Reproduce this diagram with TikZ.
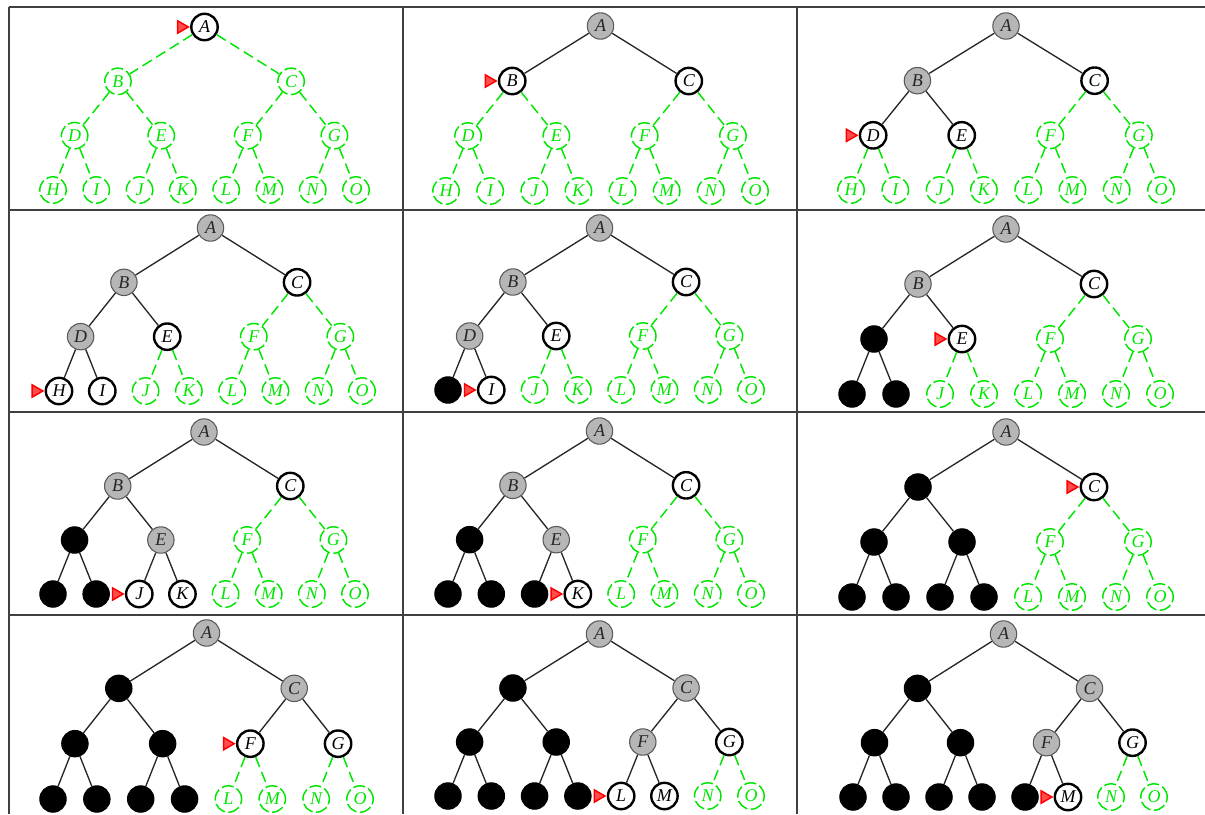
\documentclass[tikz,border=0pt]{standalone}
\usepackage{fontspec}
\setmainfont{Liberation Serif}
\definecolor{lgreen}{RGB}{0,230,0}
\definecolor{nodegray}{RGB}{182,182,182}
\definecolor{gridc}{RGB}{64,64,64}
\newcommand\nodeletter[1]{\ifcase#1\or A\or B\or C\or D\or E\or F\or G\or H\or I\or J\or K\or L\or M\or N\or O\fi}
\def\stb{b}
\tikzset{
  tn/.style={circle, minimum size=19.8pt, inner sep=0pt, font=\itshape\fontsize{13.5}{13.5}\selectfont},
  st-g/.style={tn, draw=lgreen, line width=1.1pt, dash pattern=on 9pt off 2.6pt, text=lgreen},
  st-w/.style={tn, draw=black, fill=white, line width=1.8pt, text=black},
  st-s/.style={tn, draw=black!65, fill=nodegray, line width=0.8pt, text=black!85},
  st-b/.style={tn, draw=black, fill=black, line width=0.8pt},
  ed-g/.style={draw=lgreen, line width=1.1pt, dash pattern=on 8pt off 4pt},
  ed-w/.style={draw=black!85, line width=1pt},
  ed-s/.style={ed-w},
  ed-b/.style={ed-w},
  redmark/.style={draw=red, fill=red!70, line width=1.1pt, line join=miter},
  gridline/.style={draw=gridc, line width=1.5pt},
}
% #1 id, #2 x of leftmost leaf, #3 x of rightmost leaf, #4 y of root, #5 y of leaves, #6 states, #7 marked node
\newcommand\drawtree[7]{%
  \foreach \s [count=\k] in {#6} {
    \pgfmathtruncatemacro\lv{\k<2 ? 0 : (\k<4 ? 1 : (\k<8 ? 2 : 3))}
    \pgfmathtruncatemacro\pw{2^\lv}
    \pgfmathsetmacro\xx{#2 + (#3-#2)/7*((\k-\pw+0.5)*8/\pw - 0.5)}
    \pgfmathsetmacro\yy{#4 + \lv*(#5-#4)/3}
    \node[st-\s] (c#1n\k) at (\xx,\yy) {\ifx\s\stb\else\nodeletter{\k}\fi};
    \ifnum\k>1
      \pgfmathtruncatemacro\pk{\k/2}
      \draw[ed-\s] (c#1n\pk) -- (c#1n\k);
    \fi
  }
  \draw[redmark] ([xshift=-1.3pt]c#1n#7.west) -- ++(-8pt,4.6pt) -- ++(0,-9.2pt) -- cycle;
}
\begin{document}
\begin{tikzpicture}[x=0.75pt,y=-0.75pt]
\useasboundingbox (0,0) rectangle (1205,814);
% grid
\foreach \yv in {7,210,412,615} { \draw[gridline] (8.5,\yv) -- (1205,\yv); }
\foreach \xv in {9,403,797} { \draw[gridline] (\xv,7) -- (\xv,814); }
% row 1
\drawtree{a}{53}{356}{27}{190}{w,g,g,g,g,g,g,g,g,g,g,g,g,g,g}{1}
\drawtree{b}{446}{755}{26}{191}{s,w,w,g,g,g,g,g,g,g,g,g,g,g,g}{2}
\drawtree{c}{851}{1161}{26}{190}{s,s,w,w,w,g,g,g,g,g,g,g,g,g,g}{4}
% row 2
\drawtree{d}{59}{362}{228}{391}{s,s,w,s,w,g,g,w,w,g,g,g,g,g,g}{8}
\drawtree{e}{448}{751}{228}{390}{s,s,w,s,w,g,g,b,w,g,g,g,g,g,g}{9}
\drawtree{f}{852}{1160}{229}{394}{s,s,w,b,w,g,g,b,b,g,g,g,g,g,g}{5}
% row 3
\drawtree{g}{53}{355}{432}{594}{s,s,w,b,s,g,g,b,b,w,w,g,g,g,g}{10}
\drawtree{h}{448}{751}{431}{594}{s,s,w,b,s,g,g,b,b,b,w,g,g,g,g}{11}
\drawtree{i}{852}{1160}{432}{597}{s,b,w,b,b,g,g,b,b,b,b,g,g,g,g}{3}
% row 4
\drawtree{j}{53}{360}{633}{799}{s,b,s,b,b,w,w,b,b,b,b,g,g,g,g}{6}
\drawtree{k}{448}{751}{634}{796}{s,b,s,b,b,s,w,b,b,b,b,w,w,g,g}{12}
\drawtree{l}{853}{1154}{634}{797}{s,b,s,b,b,s,w,b,b,b,b,b,w,g,g}{13}
\end{tikzpicture}
\end{document}
